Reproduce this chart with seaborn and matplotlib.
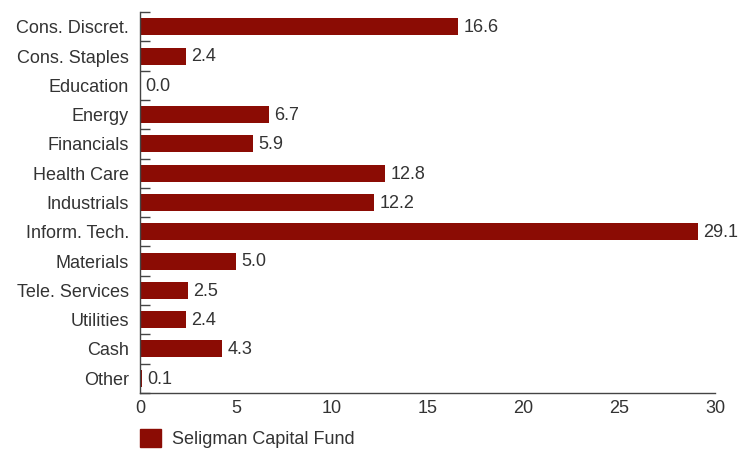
import matplotlib
matplotlib.use("Agg")
import matplotlib.pyplot as plt
import seaborn as sns
import pandas as pd
import numpy as np

# dados do gráfico
setores = ["Cons. Discret.", "Cons. Staples", "Education", "Energy", "Financials",
           "Health Care", "Industrials", "Inform. Tech.", "Materials",
           "Tele. Services", "Utilities", "Cash", "Other"]
pesos = [16.6, 2.4, 0.0, 6.7, 5.9, 12.8, 12.2, 29.1, 5.0, 2.5, 2.4, 4.3, 0.1]
serie = "Seligman Capital Fund"

df = pd.DataFrame({"setor": setores, "peso": pesos, "fundo": serie})

sns.set_style("white")
plt.rcParams["font.family"] = ["Liberation Sans", "DejaVu Sans"]
cor = "#8b0c04"
texto = "#333333"
fs = 13

fig = plt.figure(figsize=(7.45, 4.5), dpi=100)
ax = fig.add_axes([0.188, 0.127, 0.772, 0.846])
sns.barplot(data=df, x="peso", y="setor", hue="fundo", palette=[cor],
            width=0.58, ax=ax, legend=False, saturation=1, linewidth=0)

for i, v in enumerate(pesos):
    ax.text(v + 0.28, i + 0.03, f"{v:.1f}", va="center", ha="left", fontsize=fs, color=texto)

ax.set_xlim(0, 30)
ax.set_ylim(len(setores) - 0.5, -0.5)
ax.set_xticks(range(0, 31, 5))
ax.set_xlabel("")
ax.set_ylabel("")
ax.tick_params(axis="x", length=0, labelsize=fs, labelcolor=texto, pad=5)
ax.tick_params(axis="y", which="major", length=0, labelsize=fs, labelcolor=texto, pad=8)
ax.set_yticks(np.arange(-0.5, len(setores), 1), minor=True)
ax.tick_params(axis="y", which="minor", left=True, direction="in", length=7,
               color="#444444", width=1)

for s in ["top", "right"]:
    ax.spines[s].set_visible(False)
for s in ["left", "bottom"]:
    ax.spines[s].set_color("#444444")
    ax.spines[s].set_linewidth(1)

# legenda
fig.legend(handles=[plt.Rectangle((0, 0), 1, 1, color=cor)], labels=[serie],
           loc="lower left", bbox_to_anchor=(0.166, -0.032), frameon=False,
           fontsize=fs, handlelength=1.15, handleheight=1.15, handletextpad=0.6,
           labelcolor=texto)

fig.savefig("out.png", dpi=100)
